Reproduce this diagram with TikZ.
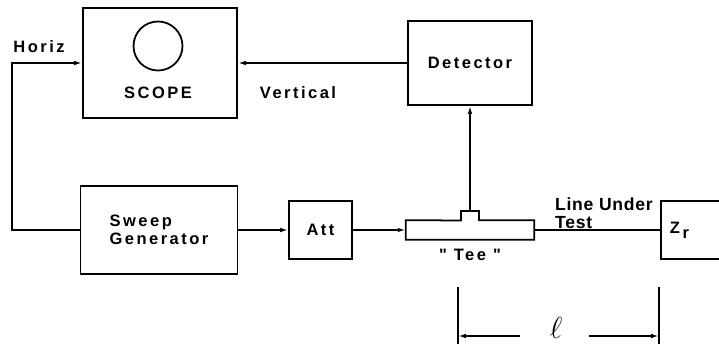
\documentclass[tikz,border=0pt]{standalone}
\usepackage{fontspec}
\usetikzlibrary{arrows.meta,positioning}
\newfontfamily\lettering[LetterSpace=15]{Liberation Sans}
\newfontfamily\plainlettering[LetterSpace=4]{Liberation Sans}

\tikzset{
  box/.style={draw, rectangle, line width=1pt, inner sep=2pt},
  lbl/.style={font=\lettering\bfseries\fontsize{9.4}{10}\selectfont},
  conn/.style={line width=1pt, -{Latex[length=4.5pt,width=2.6pt]}},
}

\begin{document}
\begin{tikzpicture}[x=0.02cm, y=-0.02cm]
  \clip (0,0) rectangle (719,344);

  % blocks
  \node[box, minimum width=3.08cm, minimum height=2.2cm] (scope) at (160,63) {};
  \node[draw, circle, line width=1pt, minimum size=0.98cm] (screen) at (158,46) {};
  \node[lbl] (scopetxt) at (158,93) {SCOPE};
  \node[box, lbl, minimum width=2.48cm, minimum height=1.68cm] (det) at (470,63) {Detector};
  \node[box, lbl, align=left, minimum width=3.14cm, minimum height=1.76cm] (sweep) at (159,230) {Sweep\\Generator};
  \node[box, lbl, minimum width=1.26cm, minimum height=1.16cm] (att) at (320.5,230) {Att};
  \node[minimum width=2.56cm, minimum height=0.38cm, inner sep=0pt] (tee) at (470,230) {};
  \draw[line width=1pt] (tee.north west) -- (461,220.5) |- (479,211) |- (tee.north east)
    -- (tee.south east) -- (tee.south west) -- cycle;
  \coordinate (tap) at (470,211);
  \node[box, minimum width=1.6cm, minimum height=1.16cm] (zr) at (701,230) {};
  \node[lbl, right=2pt of zr.west] (zrtxt) {Z\raisebox{-3pt}{\,r}};

  % labels
  \node[lbl] (horiz) at (39,47) {Horiz};
  \node[lbl] (vert) at (298,93) {Vertical};
  \node[lbl] (teetxt) at (470,255) {" Tee "};
  \node[lbl, font=\plainlettering\bfseries\fontsize{10}{10}\selectfont, align=left, anchor=west] (lut) at (549,213) {Line Under\\Test};

  % connections
  \draw[conn] (sweep.west) -- ++(-68,0) |- (scope.west);
  \draw[conn] (det.west) -- (scope.east);
  \draw[conn] (sweep.east) -- (att.west);
  \draw[conn] (att.east) -- (tee.west);
  \draw[line width=1pt] (tee.east) -- (zr.west);
  \draw[conn] (tap) -- (det.south);

  % length of line
  \coordinate (dimL) at (458,287);
  \coordinate (dimR) at (659,287);
  \coordinate (dimy) at (0,336);
  \draw[line width=1pt] (dimL) -- ++(0,60);
  \draw[line width=1pt] (dimR) -- ++(0,60);
  \node[font=\fontsize{16}{16}\selectfont, inner sep=1pt] (ell) at (556,328) {$\ell$};
  \draw[conn] ([xshift=-16pt]ell.west |- dimy) -- (dimL |- dimy);
  \draw[conn] ([xshift=14pt]ell.east |- dimy) -- (dimR |- dimy);
\end{tikzpicture}
\end{document}
